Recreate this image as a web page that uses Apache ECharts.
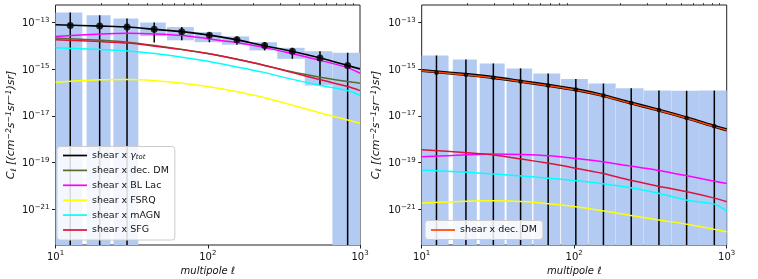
<!DOCTYPE html>
<html><head><meta charset="utf-8">
<script src="https://cdn.jsdelivr.net/npm/echarts@6/dist/echarts.min.js"></script>
<style>html,body{margin:0;padding:0;background:#fff}#c{width:758px;height:279px}</style>
</head><body><div id="c"></div>
<script>
// ---------- data ----------
const ellGrid   = [10, 20, 30, 45, 68, 100, 150, 230, 350, 550, 830, 1000];
const binLo     = [10, 16, 24, 36, 54, 82, 124, 188, 286, 434, 659];
const binHi     = [15, 23, 35, 53, 81, 123, 187, 285, 433, 658, 1000];
const binCenter = [12.5, 19.5, 29.5, 44.5, 67.5, 102.5, 155.5, 236.5, 359.5, 546, 829.5];

// left panel
const L_tot   = [7.9e-14, 6.9e-14, 6.3e-14, 5.0e-14, 4.0e-14, 2.9e-14, 1.86e-14, 1.02e-14, 5.9e-15, 2.95e-15, 1.41e-15, 1.02e-15];
const L_DM    = [2.14e-14, 1.7e-14, 1.41e-14, 1.02e-14, 6.9e-15, 4.6e-15, 2.75e-15, 1.5e-15, 7.9e-16, 4.5e-16, 2.95e-16, 2.5e-16];
const L_BLLac = [2.5e-14, 3.2e-14, 3.4e-14, 3.2e-14, 2.75e-14, 2.0e-14, 1.41e-14, 8.7e-15, 4.8e-15, 2.35e-15, 1.15e-15, 6.6e-16];
const L_FSRQ  = [2.75e-16, 3.5e-16, 3.55e-16, 3.2e-16, 2.5e-16, 1.78e-16, 1.12e-16, 6.2e-17, 3.0e-17, 1.32e-17, 6.6e-18, 4.8e-18];
const L_mAGN  = [8.1e-15, 6.9e-15, 5.9e-15, 4.6e-15, 3.2e-15, 2.14e-15, 1.29e-15, 7.4e-16, 3.8e-16, 2.0e-16, 1.2e-16, 7.4e-17];
const L_SFG   = [1.82e-14, 1.5e-14, 1.29e-14, 9.5e-15, 6.8e-15, 4.6e-15, 2.75e-15, 1.5e-15, 7.4e-16, 3.5e-16, 1.78e-16, 1.2e-16];
const L_dots   = [7.4e-14, 6.9e-14, 6.3e-14, 5.0e-14, 4.0e-14, 2.8e-14, 1.82e-14, 1.02e-14, 5.75e-15, 2.95e-15, 1.41e-15];
const L_barTop = [2.63e-13, 2.0e-13, 1.45e-13, 9.8e-14, 6.3e-14, 3.8e-14, 2.5e-14, 1.41e-14, 8.1e-15, 5.75e-15, 5.0e-15];
const L_barBot = [null, null, null, 2.57e-14, 1.7e-14, 1.41e-14, 1.1e-14, 6.3e-15, 2.75e-15, 2.0e-16, null];
const L_errBot = [null, null, null, 1.38e-14, 1.7e-14, 1.41e-14, 1.1e-14, 6.3e-15, 2.75e-15, 2.0e-16, null];

// right panel
const R_tot   = [8.7e-16, 5.75e-16, 4.3e-16, 2.95e-16, 2.0e-16, 1.35e-16, 7.8e-17, 3.7e-17, 1.82e-17, 8.1e-18, 3.55e-18, 2.5e-18];
const R_DM    = [8.5e-16, 5.6e-16, 4.2e-16, 2.9e-16, 1.95e-16, 1.32e-16, 7.6e-17, 3.6e-17, 1.78e-17, 7.9e-18, 3.45e-18, 2.45e-18];
const R_BLLac = [1.78e-19, 2.14e-19, 2.3e-19, 2.2e-19, 1.95e-19, 1.51e-19, 1.1e-19, 7.2e-20, 4.7e-20, 2.7e-20, 1.58e-20, 1.26e-20];
const R_FSRQ  = [1.86e-21, 2.2e-21, 2.3e-21, 2.14e-21, 1.74e-21, 1.32e-21, 8.9e-22, 5.6e-22, 3.55e-22, 2.3e-22, 1.38e-22, 1.1e-22];
const R_mAGN  = [4.8e-20, 3.8e-20, 3.2e-20, 2.63e-20, 2.14e-20, 1.7e-20, 1.26e-20, 8.5e-21, 5.0e-21, 2.45e-21, 1.66e-21, 8.5e-22];
const R_SFG   = [3.55e-19, 2.63e-19, 2.1e-19, 1.41e-19, 9.3e-20, 5.9e-20, 3.55e-20, 1.78e-20, 1.0e-20, 5.6e-21, 3.0e-21, 2.1e-21];
const R_dots   = [6.9e-16, 5.75e-16, 4.3e-16, 2.95e-16, 2.0e-16, 1.32e-16, 7.4e-17, 3.55e-17, 1.78e-17, 8.1e-18, 3.55e-18];
const R_barTop = [3.8e-15, 2.57e-15, 1.74e-15, 1.07e-15, 6.5e-16, 3.8e-16, 2.4e-16, 1.5e-16, 1.2e-16, 1.17e-16, 1.2e-16];
const R_barBot = [null, null, null, null, null, null, null, null, null, null, null];
const R_errBot = [null, null, null, null, null, null, null, null, null, null, null];

// ticks
const yTicks  = [1e-21, 1e-19, 1e-17, 1e-15, 1e-13];
const xMajor  = [10, 100, 1000];
const xMinor  = [20, 30, 40, 50, 60, 70, 80, 90, 200, 300, 400, 500, 600, 700, 800, 900];

// ---------- style ----------
const FONT = 'DejaVu Sans';
const TXT = '#111';
const BAR = '#b3cbf3';
const supRich = {
  b: {fontSize: 10, fontFamily: FONT, color: TXT, verticalAlign: 'bottom'},
  s: {fontSize: 7, fontFamily: FONT, color: TXT, verticalAlign: 'top', padding: [0, 0, 5, 0]}
};
function powLabel(v) {
  const e = Math.round(Math.log10(v));
  return '{b|10}{s|' + (e < 0 ? '\u2212' : '') + Math.abs(e) + '}';
}
const yName = '{i|C}{sub|\u2113}{i| [(cm}{sup|\u22122}{i|s}{sup|\u22121}{i|sr}{sup|\u22121}{i|)sr]}';
const nameRich = {
  i: {fontSize: 11, fontFamily: FONT, fontStyle: 'italic', color: TXT, verticalAlign: 'middle'},
  sup: {fontSize: 7.7, fontFamily: FONT, fontStyle: 'italic', color: TXT, verticalAlign: 'top', padding: [0, 0, 5, 0]},
  sub: {fontSize: 7.7, fontFamily: FONT, fontStyle: 'italic', color: TXT, verticalAlign: 'bottom', padding: [4, 0, 0, 0]}
};

const grids = [
  {left: 55.5, top: 5, width: 304.5, height: 240},
  {left: 421.7, top: 5, width: 305, height: 240}
];

function xAxes(g) {
  return [{
    gridIndex: g, type: 'log', logBase: 10, min: 10, max: 1000,
    axisLine: {show: false},
    axisTick: {show: true, length: 3.5, lineStyle: {color: '#222', width: 1}, customValues: xMajor},
    axisLabel: {customValues: xMajor, formatter: powLabel, margin: 5, rich: supRich},
    splitLine: {show: false},
    name: 'multipole \u2113', nameLocation: 'middle', nameGap: 20,
    nameTextStyle: {fontSize: 10, fontFamily: FONT, fontStyle: 'italic', color: TXT}
  }, {
    gridIndex: g, type: 'log', logBase: 10, min: 10, max: 1000,
    axisLine: {show: false},
    axisTick: {show: true, length: 2, lineStyle: {color: '#222', width: 0.8}, customValues: xMinor},
    axisLabel: {show: false},
    splitLine: {show: false}
  }];
}
function yAxis(g, gap) {
  return {
    gridIndex: g, type: 'log', logBase: 10, min: 2.96e-23, max: 5.52e-13,
    axisLine: {show: false},
    axisTick: {show: true, length: 3.5, lineStyle: {color: '#222', width: 1}, customValues: yTicks},
    axisLabel: {customValues: yTicks, formatter: powLabel, margin: 6, rich: supRich},
    splitLine: {show: false},
    name: yName, nameLocation: 'middle', nameGap: gap, nameRotate: 90,
    nameTextStyle: {rich: nameRich, fontSize: 11, fontFamily: FONT}
  };
}

function barSeries(xi, yi, top, bot) {
  return {
    type: 'custom', xAxisIndex: xi, yAxisIndex: yi, z: 1, silent: true,
    data: binCenter.map((c, i) => [c, top[i]]),
    encode: {x: 0, y: 1},
    renderItem: function (params, api) {
      const i = params.dataIndex, cs = params.coordSys;
      const p1 = api.coord([binLo[i], top[i]]);
      const p2 = api.coord([binHi[i], bot[i] == null ? 2.96e-23 : bot[i]]);
      const yTop = Math.max(p1[1], cs.y), yBot = Math.min(p2[1], cs.y + cs.height);
      const xL = Math.max(p1[0], cs.x), xR = Math.min(p2[0], cs.x + cs.width);
      return {type: 'rect', shape: {x: xL, y: yTop, width: xR - xL, height: yBot - yTop}, style: {fill: BAR}};
    }
  };
}
function errSeries(xi, yi, top, bot, lw) {
  return {
    type: 'custom', xAxisIndex: xi, yAxisIndex: yi, z: 3, silent: true,
    data: binCenter.map((c, i) => [c, top[i]]),
    encode: {x: 0, y: 1},
    renderItem: function (params, api) {
      const i = params.dataIndex, cs = params.coordSys;
      const p1 = api.coord([binCenter[i], top[i]]);
      const p2 = api.coord([binCenter[i], bot[i] == null ? 2.96e-23 : bot[i]]);
      return {type: 'line', shape: {x1: p1[0], y1: Math.max(p1[1], cs.y), x2: p2[0], y2: Math.min(p2[1], cs.y + cs.height)},
              style: {stroke: '#000', lineWidth: lw}};
    }
  };
}
function lineSeries(name, xi, yi, arr, color, w, z) {
  return {
    name: name, type: 'line', xAxisIndex: xi, yAxisIndex: yi, z: z || 4,
    data: ellGrid.map((x, i) => [x, arr[i]]),
    symbol: 'none', smooth: 0.25, clip: true,
    lineStyle: {color: color, width: w}, itemStyle: {color: color},
    emphasis: {disabled: true}
  };
}
function dotSeries(xi, yi, arr, size) {
  return {
    type: 'scatter', xAxisIndex: xi, yAxisIndex: yi, z: 6, silent: true,
    data: binCenter.map((c, i) => [c, arr[i]]),
    symbol: 'circle', symbolSize: size, itemStyle: {color: '#000'}
  };
}

const C = {olive: '#556b2f', mag: '#ff00ff', yel: '#ffff00', cyan: '#00ffff', red: '#dc143c', orange: '#ff4500'};

const legendText = {
  fontSize: 9.5, fontFamily: FONT, color: TXT, lineHeight: 11,
  rich: {
    g: {fontSize: 9.5, fontFamily: FONT, fontStyle: 'italic', color: TXT, verticalAlign: 'middle'},
    t: {fontSize: 6.8, fontFamily: FONT, fontStyle: 'italic', color: TXT, verticalAlign: 'bottom', padding: [3, 0, 0, 0]}
  }
};
function legendFmt(n) {
  if (n === 'shear x \u03b3tot') return 'shear x {g|\u03b3}{t|tot}';
  return n.replace(/^R /, '');
}
const legendBase = {
  orient: 'vertical', icon: 'rect', itemWidth: 24, itemHeight: 1.7,
  backgroundColor: 'rgba(255,255,255,0.85)', borderColor: '#cccccc', borderWidth: 1, borderRadius: 3,
  textStyle: legendText, formatter: legendFmt, selectedMode: false
};

const option = {
  animation: false,
  backgroundColor: '#fff',
  grid: grids.map(g => Object.assign({show: true, borderColor: '#222', borderWidth: 1, backgroundColor: 'transparent', containLabel: false, outerBoundsMode: 'none'}, g)),
  xAxis: xAxes(0).concat(xAxes(1)),
  yAxis: [yAxis(0, 37), yAxis(1, 39)],
  legend: [Object.assign({}, legendBase, {
    left: 57, top: 146.5, padding: [3.5, 6, 4.5, 6], itemGap: 3.9,
    data: ['shear x \u03b3tot', 'shear x dec. DM', 'shear x BL Lac', 'shear x FSRQ', 'shear x mAGN', 'shear x SFG']
  }), Object.assign({}, legendBase, {
    left: 425, top: 220.5, padding: [4, 6, 4, 6], itemGap: 0,
    data: ['R shear x dec. DM']
  })],
  series: [
    barSeries(0, 0, L_barTop, L_barBot),
    errSeries(0, 0, L_barTop, L_errBot, 1.5),
    lineSeries('shear x \u03b3tot', 0, 0, L_tot, '#000', 1.6, 5),
    lineSeries('shear x dec. DM', 0, 0, L_DM, C.olive, 1.5),
    lineSeries('shear x BL Lac', 0, 0, L_BLLac, C.mag, 1.5),
    lineSeries('shear x FSRQ', 0, 0, L_FSRQ, C.yel, 1.5),
    lineSeries('shear x mAGN', 0, 0, L_mAGN, C.cyan, 1.5),
    lineSeries('shear x SFG', 0, 0, L_SFG, C.red, 1.5),
    dotSeries(0, 0, L_dots, 7),

    barSeries(2, 1, R_barTop, R_barBot),
    errSeries(2, 1, R_barTop, R_errBot, 1.5),
    lineSeries('R tot', 2, 1, R_tot, '#000', 3.2, 5),
    lineSeries('R shear x dec. DM', 2, 1, R_DM, C.orange, 1.5, 6),
    lineSeries('R shear x BL Lac', 2, 1, R_BLLac, C.mag, 1.5),
    lineSeries('R shear x FSRQ', 2, 1, R_FSRQ, C.yel, 1.5),
    lineSeries('R shear x mAGN', 2, 1, R_mAGN, C.cyan, 1.5),
    lineSeries('R shear x SFG', 2, 1, R_SFG, C.red, 1.5),
    dotSeries(2, 1, R_dots, 4.5)
  ]
};
const chart = echarts.init(document.getElementById('c'), null, {renderer: 'canvas'});
chart.setOption(option);
</script></body></html>
